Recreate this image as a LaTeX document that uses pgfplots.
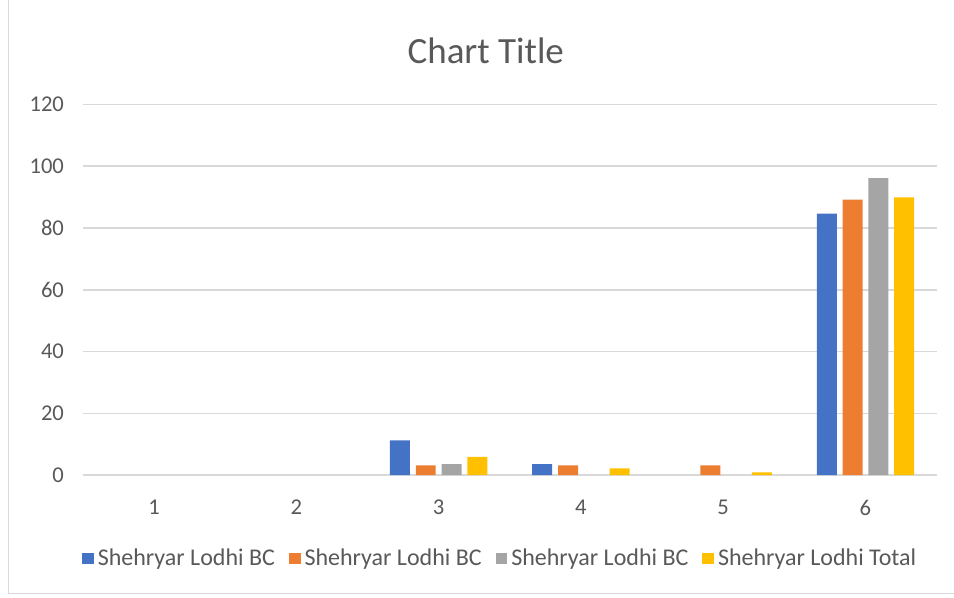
\documentclass[border=0pt]{standalone}
\usepackage{pgfplots}
\pgfplotsset{compat=1.18}
\usepackage{fontspec}
\setmainfont{Carlito}
\definecolor{s1}{HTML}{4472C4}
\definecolor{s2}{HTML}{ED7D31}
\definecolor{s3}{HTML}{A5A5A5}
\definecolor{s4}{HTML}{FFC000}
\definecolor{txt}{HTML}{595959}
\definecolor{gridc}{HTML}{D9D9D9}
\begin{document}
\begin{tikzpicture}
% chart area; 1 px of the reference = 0.5pt, y measured up from the bottom
\path (0pt,0pt) rectangle (477pt,298.5pt);
\draw[gridc] (4pt,298.5pt) -- (4pt,2pt) -- (477pt,2pt);
\node[text=txt,font=\fontsize{18.5}{22}\selectfont] at (243pt,273.5pt) {Chart Title};
\begin{axis}[
  at={(41.5pt,61pt)}, anchor=south west,
  scale only axis, width=427pt, height=185.5pt,
  ybar=2.9pt, bar width=10pt,
  xmin=0.5, xmax=6.5, ymin=0, ymax=120,
  xtick={1,...,6}, ytick={0,20,...,120},
  ymajorgrids, xmajorgrids=false,
  y grid style={draw=gridc, line width=0.8pt},
  axis x line*=bottom, axis y line*=left,
  x axis line style={draw=gridc, line width=1pt, -},
  y axis line style={draw=none},
  major tick length=0pt,
  tick label style={text=txt, font=\fontsize{11.3}{13}\selectfont},
  /pgf/number format/assume math mode=true,
  xticklabel style={yshift=-9pt},
  yticklabel style={xshift=-6pt},
  legend style={at={(0.49,-0.225)}, anchor=center, draw=none,
    legend columns=4, font=\fontsize{12}{14}\selectfont, text=txt,
    /tikz/every even column/.append style={column sep=5pt}},
  legend image code/.code={\fill[#1] (0pt,-2.9pt) rectangle (5.8pt,2.9pt);},
]
\addplot[fill=s1, draw=none] coordinates {(3,11.3) (4,3.6) (6,84.6)};
\addplot[fill=s2, draw=none] coordinates {(3,3.2) (4,3.2) (5,3.2) (6,89.2)};
\addplot[fill=s3, draw=none] coordinates {(3,3.6) (6,96.1)};
\addplot[fill=s4, draw=none] coordinates {(3,5.9) (4,2.2) (5,0.9) (6,89.9)};
\legend{Shehryar Lodhi BC, Shehryar Lodhi BC, Shehryar Lodhi BC, Shehryar Lodhi Total}
\end{axis}
\end{tikzpicture}
\end{document}
